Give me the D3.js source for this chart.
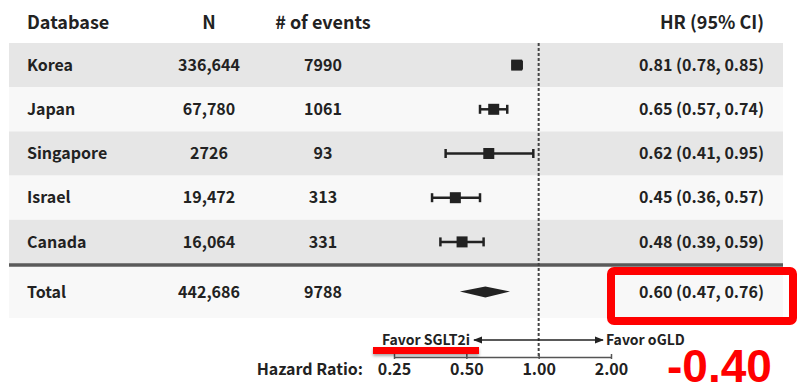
<!DOCTYPE html>
<html>
<head>
<meta charset="utf-8">
<script src="https://cdn.jsdelivr.net/npm/d3@7"></script>
<style>
  body { margin: 0; background: #fff; }
  svg { display: block; font-family: "Noto Sans CJK KR", "Noto Sans", sans-serif; }
</style>
</head>
<body>
<div id="chart"></div>
<script>
const databases = ["Korea", "Japan", "Singapore", "Israel", "Canada"];
const nValues = ["336,644", "67,780", "2726", "19,472", "16,064"];
const eventCounts = ["7990", "1061", "93", "313", "331"];
const hazardRatios = [0.81, 0.65, 0.62, 0.45, 0.48];
const ciLower = [0.78, 0.57, 0.41, 0.36, 0.39];
const ciUpper = [0.85, 0.74, 0.95, 0.57, 0.59];

const totalLabel = "Total";
const totalN = "442,686";
const totalEvents = "9788";
const totalHr = 0.60;
const totalLower = 0.47;
const totalUpper = 0.76;

const headers = ["Database", "N", "# of events", "HR (95% CI)"];
const axisTicks = [0.25, 0.5, 1, 2];
const favorLabels = ["Favor SGLT2i", "Favor oGLD"];
const highlightValue = "-0.40";

const width = 797, height = 387;
const textColor = "#222";

const svg = d3.select("#chart").append("svg")
    .attr("width", width)
    .attr("height", height);

const defs = svg.append("defs");
["arrow-end", "arrow-start"].forEach((id, i) => {
    defs.append("marker")
        .attr("id", id)
        .attr("viewBox", "0 0 10 10")
        .attr("refX", i === 0 ? 9 : 1)
        .attr("refY", 5)
        .attr("markerWidth", 7)
        .attr("markerHeight", 7)
        .attr("orient", "auto")
        .append("path")
        .attr("d", i === 0 ? "M0,1 L10,5 L0,9 Z" : "M10,1 L0,5 L10,9 Z")
        .attr("fill", textColor);
});
const shadow = defs.append("filter").attr("id", "shadow")
    .attr("x", "-10%").attr("y", "-50%").attr("width", "120%").attr("height", "250%");
shadow.append("feDropShadow")
    .attr("dx", 0).attr("dy", 2).attr("stdDeviation", 1.5)
    .attr("flood-color", "#000").attr("flood-opacity", 0.35);

// column positions
const colDb = 27, colN = 209, colEv = 323, colHr = 764;
const left = 9, right = 783;

const xScale = d3.scaleLog().base(2)
    .domain([0.25, 2])
    .range([394, 611]);

const yScale = d3.scaleBand()
    .domain(databases)
    .range([43, 264]);

const totalTop = 267, totalBottom = 318;
const totalY = (totalTop + totalBottom) / 2;

const fmt = d3.format(".2f");
const hrText = (h, l, u) => `${fmt(h)} (${fmt(l)}, ${fmt(u)})`;

const rows = databases.map((d, i) => ({
    name: d, n: nValues[i], ev: eventCounts[i],
    hr: hazardRatios[i], lo: ciLower[i], hi: ciUpper[i], idx: i
}));

// row bands
svg.selectAll(".band")
    .data(rows)
    .enter()
    .append("rect")
    .attr("class", "band")
    .attr("x", left)
    .attr("y", d => yScale(d.name))
    .attr("width", right - left)
    .attr("height", yScale.bandwidth())
    .attr("fill", d => d.idx % 2 === 0 ? "#e6e6e6" : "#f8f8f8");

svg.append("rect")
    .attr("x", left)
    .attr("y", totalTop)
    .attr("width", right - left)
    .attr("height", totalBottom - totalTop)
    .attr("fill", "#f8f8f8");

svg.append("line")
    .attr("x1", left).attr("x2", right)
    .attr("y1", 265).attr("y2", 265)
    .attr("stroke", "#5a5a5a")
    .attr("stroke-width", 3.5);

// headers
const headerX = [colDb, colN, colEv, colHr];
const headerAnchor = ["start", "middle", "middle", "end"];
svg.selectAll(".header")
    .data(headers)
    .enter()
    .append("text")
    .attr("class", "header")
    .attr("x", (d, i) => headerX[i])
    .attr("y", 29)
    .attr("text-anchor", (d, i) => headerAnchor[i])
    .attr("font-size", 18)
    .attr("font-weight", 600)
    .attr("fill", textColor)
    .text(d => d);

// row texts
const rowText = function(sel, x, anchor, accessor){
    sel.append("text")
        .attr("x", x)
        .attr("y", d => yScale(d.name) + yScale.bandwidth() / 2)
        .attr("dy", "0.35em")
        .attr("text-anchor", anchor)
        .attr("font-size", 16)
        .attr("font-weight", 600)
        .attr("fill", textColor)
        .text(accessor);
};

const rowG = svg.selectAll(".row")
    .data(rows)
    .enter()
    .append("g")
    .attr("class", "row");

rowText(rowG, colDb, "start", d => d.name);
rowText(rowG, colN, "middle", d => d.n);
rowText(rowG, colEv, "middle", d => d.ev);
rowText(rowG, colHr, "end", d => hrText(d.hr, d.lo, d.hi));

// total texts
const totalTexts = [
    [colDb, "start", totalLabel],
    [colN, "middle", totalN],
    [colEv, "middle", totalEvents],
    [colHr, "end", hrText(totalHr, totalLower, totalUpper)]
];
svg.selectAll(".total-text")
    .data(totalTexts)
    .enter()
    .append("text")
    .attr("class", "total-text")
    .attr("x", d => d[0])
    .attr("y", totalY)
    .attr("dy", "0.35em")
    .attr("text-anchor", d => d[1])
    .attr("font-size", 16)
    .attr("font-weight", 600)
    .attr("fill", textColor)
    .text(d => d[2]);

// reference line at HR = 1
svg.append("line")
    .attr("x1", xScale(1)).attr("x2", xScale(1))
    .attr("y1", 43).attr("y2", 357)
    .attr("stroke", "#444")
    .attr("stroke-width", 2)
    .attr("stroke-dasharray", "3,2");

// confidence intervals
const cy = d => yScale(d.name) + yScale.bandwidth() / 2;
rowG.append("line")
    .attr("x1", d => xScale(d.lo))
    .attr("x2", d => xScale(d.hi))
    .attr("y1", cy).attr("y2", cy)
    .attr("stroke", textColor)
    .attr("stroke-width", 2.5);

["lo", "hi"].forEach(k => {
    rowG.append("line")
        .attr("x1", d => xScale(d[k]))
        .attr("x2", d => xScale(d[k]))
        .attr("y1", d => cy(d) - 4.5)
        .attr("y2", d => cy(d) + 4.5)
        .attr("stroke", textColor)
        .attr("stroke-width", 2.5);
});

const sq = 11;
rowG.append("rect")
    .attr("x", d => xScale(d.hr) - sq / 2)
    .attr("y", d => cy(d) - sq / 2)
    .attr("width", sq)
    .attr("height", sq)
    .attr("fill", textColor);

// pooled diamond
svg.append("path")
    .attr("d", `M${xScale(totalLower)},${totalY - 1}
        L${xScale(totalHr)},${totalY - 6}
        L${xScale(totalUpper)},${totalY - 1}
        L${xScale(totalHr)},${totalY + 5} Z`)
    .attr("fill", textColor);

// favor arrows
svg.append("line")
    .attr("x1", 474).attr("x2", 603)
    .attr("y1", 340).attr("y2", 340)
    .attr("stroke", textColor)
    .attr("stroke-width", 1.3)
    .attr("marker-start", "url(#arrow-start)")
    .attr("marker-end", "url(#arrow-end)");

svg.append("text")
    .attr("x", 470).attr("y", 345)
    .attr("text-anchor", "end")
    .attr("font-size", 14)
    .attr("font-weight", 600)
    .attr("fill", textColor)
    .text(favorLabels[0]);

svg.append("text")
    .attr("x", 606).attr("y", 345)
    .attr("font-size", 14)
    .attr("font-weight", 600)
    .attr("fill", textColor)
    .text(favorLabels[1]);

// axis
const axisG = svg.append("g")
    .attr("transform", "translate(0,357)")
    .call(d3.axisBottom(xScale)
        .tickValues(axisTicks)
        .tickFormat(d3.format(".2f"))
        .tickSize(5)
        .tickSizeOuter(0));
axisG.select(".domain").attr("stroke", "#555").attr("stroke-width", 1.5);
axisG.selectAll(".tick line")
    .attr("stroke", "#555")
    .attr("stroke-width", 1.5)
    .attr("y1", -3).attr("y2", 2);
axisG.selectAll(".tick text")
    .attr("y", 18)
    .attr("dy", 0)
    .attr("font-family", "\"Noto Sans CJK KR\", \"Noto Sans\", sans-serif")
    .attr("font-size", 16)
    .attr("font-weight", 700)
    .attr("fill", textColor);

svg.append("text")
    .attr("x", 363).attr("y", 375)
    .attr("text-anchor", "end")
    .attr("font-size", 16)
    .attr("font-weight", 700)
    .attr("fill", textColor)
    .text("Hazard Ratio:");

// red annotations
svg.append("rect")
    .attr("x", 373).attr("y", 347)
    .attr("width", 106).attr("height", 7)
    .attr("fill", "#ff0000")
    .attr("filter", "url(#shadow)");

svg.append("rect")
    .attr("x", 611).attr("y", 271)
    .attr("width", 182).attr("height", 50)
    .attr("rx", 3)
    .attr("fill", "none")
    .attr("stroke", "#ff0000")
    .attr("stroke-width", 8);

svg.append("text")
    .attr("x", 667).attr("y", 382)
    .attr("font-family", "\"Liberation Sans\", Arial, sans-serif")
    .attr("font-size", 46)
    .attr("font-weight", 700)
    .attr("fill", "#ff0000")
    .text(highlightValue);
</script>
</body>
</html>
